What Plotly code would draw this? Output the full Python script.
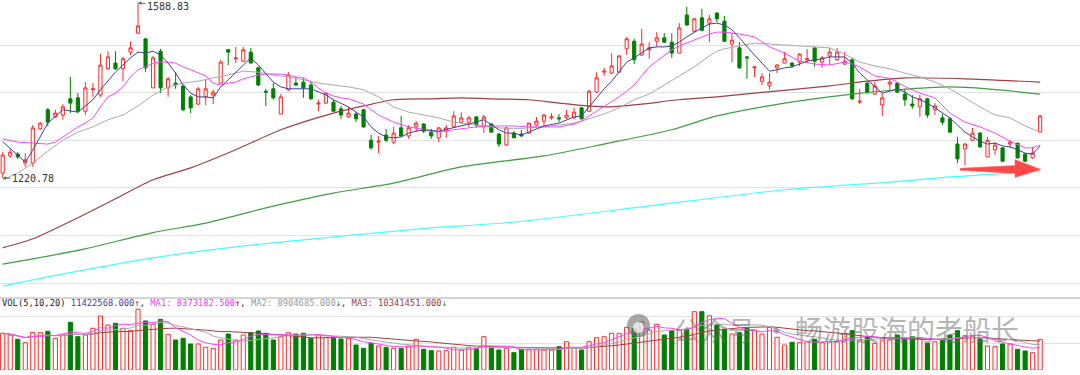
import plotly.graph_objects as go
import pandas as pd

# ---------------- data ----------------
idx = list(range(139))

opens = [1231,1267,1271,1252,1252,1324,1364,1349,1353,1387,1389,1361,1406,1395,1450,1462,1450,1485,1525,1513,
         1410,1487,1410,1420,1414,1391,1376,1391,1395,1420,1490,1471,1466,1485,1452,1403,1408,1355,1406,1420,
         1422,1416,1376,1378,1380,1366,1349,1355,1364,1300,1296,1311,1296,1326,1309,1328,1334,1317,1305,1319,
         1328,1338,1338,1349,1328,1334,1313,1290,1315,1313,1315,1332,1340,1347,1347,1347,1347,1368,1361,1401,
         1443,1441,1443,1492,1508,1479,1490,1508,1515,1506,1483,1563,1529,1557,1546,1567,1550,1502,1494,1475,
         1452,1424,1414,1452,1462,1462,1464,1469,1494,1464,1477,1469,1460,1469,1380,1420,1397,1374,1418,1420,
         1397,1376,1370,1387,1364,1347,1345,1292,1282,1300,1315,1265,1280,1284,1292,1294,1271,1263,1317]
highs = [1275,1282,1275,1273,1332,1338,1368,1364,1376,1433,1399,1422,1420,1481,1487,1487,1475,1508,1588.83,1513,
         1477,1492,1433,1443,1416,1395,1412,1427,1406,1469,1492,1496,1496,1494,1454,1408,1420,1397,1443,1433,
         1431,1424,1385,1401,1385,1372,1370,1359,1366,1311,1309,1324,1328,1351,1332,1340,1336,1324,1328,1332,
         1361,1359,1351,1351,1353,1336,1315,1328,1319,1322,1336,1349,1355,1357,1355,1364,1368,1370,1406,1443,
         1452,1483,1479,1517,1513,1534,1506,1527,1525,1525,1546,1580,1557,1576,1563,1569,1561,1525,1506,1477,
         1456,1441,1441,1460,1485,1464,1483,1492,1494,1477,1494,1494,1485,1473,1408,1422,1422,1399,1429,1422,
         1408,1395,1395,1389,1378,1355,1349,1307,1294,1326,1317,1307,1296,1286,1300,1294,1273,1286,1353]
lows = [1220.78,1263,1261,1244,1244,1322,1330,1347,1343,1357,1357,1353,1391,1391,1448,1448,1424,1479,1523,1443,
        1410,1399,1391,1408,1361,1357,1374,1374,1376,1420,1458,1462,1464,1462,1414,1372,1385,1355,1403,1414,
        1389,1385,1361,1376,1359,1345,1347,1338,1326,1280,1273,1296,1292,1307,1303,1317,1315,1303,1296,1305,
        1326,1336,1328,1326,1315,1317,1286,1288,1305,1307,1313,1330,1330,1343,1338,1345,1345,1343,1359,1399,
        1435,1439,1441,1479,1460,1477,1471,1496,1504,1473,1483,1540,1527,1529,1506,1548,1506,1464,1450,1429,
        1433,1416,1406,1441,1462,1452,1456,1464,1454,1452,1458,1466,1458,1385,1376,1397,1395,1351,1403,1399,
        1372,1366,1349,1347,1353,1332,1315,1252,1248,1298,1284,1265,1269,1254,1284,1261,1254,1261,1317]
closes = [1269,1275,1265,1259,1326,1336,1338,1357,1370,1378,1361,1410,1408,1458,1475,1450,1471,1494,1540,1452,
          1473,1410,1429,1416,1364,1368,1408,1408,1401,1464,1485,1473,1490,1462,1416,1401,1389,1391,1437,1416,
          1410,1387,1378,1399,1361,1353,1357,1345,1328,1284,1298,1300,1315,1309,1326,1336,1319,1309,1326,1326,
          1351,1347,1347,1332,1349,1317,1292,1326,1305,1309,1336,1340,1353,1349,1345,1353,1359,1345,1403,1431,
          1445,1456,1477,1513,1469,1502,1494,1515,1506,1483,1536,1542,1555,1531,1555,1555,1508,1510,1452,1473,
          1454,1433,1422,1458,1471,1456,1481,1471,1466,1473,1485,1485,1466,1387,1382,1401,1414,1389,1422,1401,
          1385,1372,1387,1353,1372,1338,1317,1261,1292,1315,1286,1300,1290,1256,1296,1263,1256,1273,1351]

# volume (millions of shares)
volumes = [13.65,13.02,11.42,10.16,14.02,13.88,14.40,11.79,13.02,17.74,
           12.39,13.02,15.51,20.09,16.74,17.37,15.51,14.62,22.58,18.23,
           17.00,18.86,13.28,11.16,11.79,9.67,9.67,8.44,8.07,11.16,
           13.39,11.16,13.02,13.88,14.51,13.65,11.16,12.39,13.88,13.39,
           13.65,11.79,13.02,12.16,11.79,11.53,11.79,9.30,8.07,9.93,
           8.93,8.44,8.07,8.07,8.93,11.42,7.70,7.18,7.07,7.18,
           8.44,7.44,8.44,8.07,12.39,8.44,7.44,8.07,6.44,7.70,
           7.70,7.70,
           7.44,7.44,8.67,10.53,8.07,7.44,10.53,12.02,12.39,13.65,
           13.65,15.88,15.51,17.97,14.88,17.00,13.02,14.62,14.88,15.14,
           21.69,21.69,20.20,16.74,15.14,13.39,13.88,15.51,14.88,13.39,
           15.88,12.16,9.30,10.30,10.16,10.53,11.42,10.16,10.53,10.53,
           13.65,14.62,11.16,12.39,9.93,11.79,11.16,13.02,11.79,12.39,
           11.79,9.93,10.53,11.42,13.02,14.62,12.76,12.65,11.53,8.93,
           8.67,9.67,9.67,7.70,7.07,6.44,11.42]

# price moving averages (index, value)
ma5_idx = [0,3,4,6,8,10,12,13,15,17,18,19,20,21,22,23,24,25,26,27,28,29,30,31,32,33,34,35,36,37,38,41,42,43,44,45,46,47,
           48,49,50,51,52,53,54,55,56,58,60,62,64,65,66,67,68,69,70,72,74,76,77,78,79,80,81,82,83,84,85,86,87,88,89,90,
           91,92,93,94,95,96,97,98,99,100,101,102,103,104,105,106,107,108,109,110,112,113,114,115,116,117,118,119,120,
           121,122,123,124,125,126,127,128,129,130,131,132,133,134,135,136,137,138]
ma5_val = [1297,1254,1279,1336,1364,1359,1385,1406,1443,1473,1485,1483,1487,1479,1462,1441,1416,1399,1391,1391,1389,1412,
           1427,1443,1458,1473,1458,1441,1422,1412,1408,1408,1401,1395,1385,1378,1370,1359,
           1349,1328,1315,1307,1305,1307,1315,1319,1322,1319,1326,1334,1343,1332,1322,1315,1315,1311,1317,1330,1336,1349,
           1351,1370,1389,1408,1424,1445,1464,1473,1483,1494,1496,1496,1498,1506,
           1517,1527,1536,1544,1546,1542,1532,1515,1496,1479,1462,1445,1448,1452,1454,1460,1466,1469,1471,1475,1475,1462,
           1441,1427,1412,1399,1403,1408,1401,
           1391,1385,1378,1368,1357,1347,1332,1317,1307,1298,1292,1294,1288,1286,1280,1273,1271,1288]

ma10_idx = [0,2,4,6,7,8,9,10,11,12,13,14,15,16,17,18,19,20,21,22,23,24,25,26,27,28,29,30,31,32,33,34,35,37,38,39,40,41,
            42,43,44,45,46,47,48,50,52,54,56,58,60,62,64,66,68,70,72,74,76,77,78,79,80,81,82,83,84,85,86,87,88,89,90,
            91,92,93,94,95,96,98,100,102,104,106,108,110,112,113,114,116,118,120,122,124,126,128,130,132,134,136,137,138]
ma10_val = [1303,1296,1294,1292,1296,1307,1317,1328,1336,1347,1370,1391,1399,1412,1433,1448,1454,1462,1464,1464,1462,
            1454,1448,1441,1435,1420,1416,1420,1422,1429,1433,1437,1439,1439,1437,1433,1431,1422,
            1410,1399,1393,1389,1387,1382,1376,1353,1338,1328,1322,1317,1322,1326,1330,1330,1330,1328,1328,1328,1334,
            1340,1351,1361,1370,1380,1391,1403,1416,1435,1454,1466,1479,1490,1498,
            1504,1511,1517,1523,1527,1527,1523,1517,1496,1483,1466,1460,1458,1464,1460,1454,1435,1430,1413,1399,1389,
            1357,1338,1328,1315,1298,1284,1284,1290]

ma20_idx = [0,2,4,6,8,10,12,14,16,18,20,22,24,26,28,30,32,34,36,38,40,42,44,46,48,50,52,54,56,58,60,62,64,66,68,70,
            72,74,76,78,80,82,84,86,88,90,92,94,95,96,98,100,102,104,106,108,110,112,114,116,118,120,122,124,126,128,
            130,132,134,136,138]
ma20_val = [1217,1231,1252,1277,1300,1317,1328,1343,1353,1372,1395,1412,1420,1424,1431,1437,1445,1443,1437,1433,1427,
            1420,1416,1412,1406,1391,1370,1359,1353,1347,1338,1334,1330,1326,1324,1326,
            1328,1332,1336,1345,1355,1368,1385,1397,1416,1435,1454,1477,1487,1492,1498,1504,1502,1500,1498,1496,1494,
            1481,1464,1456,1450,1441,1433,1422,1408,1389,1370,1353,1347,1330,1317]

ma60_idx = [0,4,11,15,20,25,31,37,44,48,52,57,61,65,70,74,78,81,85,90,95,100,110,115,120,128,138]
ma60_val = [1074,1093,1145,1177,1217,1242,1280,1322,1357,1372,1385,1387,1389,1387,1385,1378,1372,1370,1376,1385,
            1391,1399,1414,1424,1431,1429,1422]

ma120_idx = [0,4,11,20,27,35,44,52,61,72,80,89,95,104,113,119,126,131,138]
ma120_val = [1040,1051,1072,1106,1126,1158,1189,1210,1244,1267,1292,1322,1351,1378,1397,1406,1412,1408,1397]

ma250_idx = [0,6,20,31,44,57,68,86,104,118,126,138]
ma250_val = [994,1013,1053,1076,1097,1116,1128,1162,1196,1212,1223,1235]

high_label = "1588.83"
low_label = "1220.78"
vol_legend = ["VOL(5,10,20)", "11422568.000", "MA1: 8373182.500", "MA2: 8904685.000", "MA3: 10341451.000"]
watermark = ["公众号", "·", "畅游股海的老船长"]

# ---------------- styling ----------------
W, H = 1080, 375
RED = "#ff2a2a"
GREEN = "#008000"
C_MA5 = "#3f3f9a"
C_MA10 = "#ff44ff"
C_MA20 = "#aaaaaa"
C_MA60 = "#a04040"
C_MA120 = "#3f9f3f"
C_MA250 = "#44ffff"
GRID = "#e2e2e2"

def px_x(v):
    return v / W

def px_y(v):
    return 1 - v / H

fig = go.Figure()

fig.add_trace(go.Candlestick(
    x=idx, open=opens, high=highs, low=lows, close=closes,
    increasing=dict(line=dict(color=RED, width=1), fillcolor="white"),
    decreasing=dict(line=dict(color=GREEN, width=1), fillcolor=GREEN),
    whiskerwidth=0, showlegend=False, hoverinfo="skip",
    xaxis="x", yaxis="y"))

for xs, ys, c, w, shp in [(ma250_idx, ma250_val, C_MA250, 1.2, "spline"),
                          (ma120_idx, ma120_val, C_MA120, 1.2, "spline"),
                          (ma60_idx, ma60_val, C_MA60, 1.2, "spline"),
                          (ma20_idx, ma20_val, C_MA20, 1, "linear"),
                          (ma10_idx, ma10_val, C_MA10, 1, "linear"),
                          (ma5_idx, ma5_val, C_MA5, 1, "linear")]:
    fig.add_trace(go.Scatter(x=xs, y=ys, mode="lines", line=dict(color=c, width=w, shape=shp, smoothing=0.7),
                             showlegend=False, hoverinfo="skip", xaxis="x", yaxis="y"))

up = [c >= o for o, c in zip(opens, closes)]
fig.add_trace(go.Bar(
    x=idx, y=volumes, width=0.55,
    marker=dict(color=["white" if u else GREEN for u in up],
                line=dict(color=[RED if u else GREEN for u in up], width=1)),
    showlegend=False, hoverinfo="skip", xaxis="x2", yaxis="y2"))

vs = pd.Series(volumes)
for n, c in [(20, C_MA60), (10, C_MA20), (5, C_MA10)]:
    fig.add_trace(go.Scatter(x=idx, y=vs.rolling(n, min_periods=1).mean(), mode="lines",
                             line=dict(color=c, width=1), showlegend=False, hoverinfo="skip",
                             xaxis="x2", yaxis="y2"))

xr = [-0.36, 143.3]
fig.update_layout(
    width=W, height=H, margin=dict(l=0, r=0, t=0, b=0),
    paper_bgcolor="white", plot_bgcolor="white",
    xaxis=dict(domain=[0, 1], range=xr, showgrid=False, zeroline=False, showticklabels=False,
               rangeslider=dict(visible=False), anchor="y", fixedrange=True),
    yaxis=dict(domain=[px_y(290), 1], range=[985.5, 1594.5], tickvals=[1000, 1100, 1200, 1300, 1400, 1500],
               gridcolor=GRID, gridwidth=1, zeroline=False, showticklabels=False, anchor="x"),
    xaxis2=dict(domain=[0, 1], range=xr, showgrid=False, zeroline=False, showticklabels=False, anchor="y2"),
    yaxis2=dict(domain=[px_y(370), px_y(298)], range=[0, 26.78], tickvals=[0, 10, 20],
                gridcolor=GRID, gridwidth=1, zeroline=False, showticklabels=False, anchor="x2"),
    boxgap=0.4,
)

# separator line above volume panel
fig.add_shape(type="line", xref="paper", yref="paper", x0=0, x1=1, y0=px_y(298), y1=px_y(298),
              line=dict(color="#a8a8a8", width=1))

mono = "DejaVu Sans Mono"
fig.add_annotation(x=18, y=1588.83, xref="x", yref="y", text=high_label, showarrow=True,
                   ax=30, ay=4, arrowhead=2, arrowsize=0.7, arrowwidth=1, arrowcolor="#666",
                   font=dict(family=mono, size=10, color="#333"))
fig.add_annotation(x=0, y=1220.78, xref="x", yref="y", text=low_label, showarrow=True,
                   ax=30, ay=1, arrowhead=2, arrowsize=0.7, arrowwidth=1, arrowcolor="#666",
                   font=dict(family=mono, size=10, color="#333"))

legend_html = (f"<span style='color:#222'>{vol_legend[0]}</span> "
               f"<span style='color:{C_MA5}'>{vol_legend[1]}</span><span style='color:#e00'>↑</span>, "
               f"<span style='color:#ff33ff'>{vol_legend[2]}</span><span style='color:#e00'>↑</span>, "
               f"<span style='color:#999'>{vol_legend[3]}</span><span style='color:#090'>↓</span>, "
               f"<span style='color:{C_MA60}'>{vol_legend[4]}</span><span style='color:#090'>↓</span>")
fig.add_annotation(x=0, y=px_y(303), xref="paper", yref="paper", xanchor="left", yanchor="middle",
                   text=legend_html, showarrow=False, font=dict(family=mono, size=8.8, color="#222"))

# watermark
fig.add_shape(type="circle", xref="paper", yref="paper", x0=px_x(627), x1=px_x(650), y0=px_y(337), y1=px_y(314),
              fillcolor="rgba(110,110,110,0.6)", line=dict(width=0))
fig.add_shape(type="circle", xref="paper", yref="paper", x0=px_x(633), x1=px_x(644), y0=px_y(333), y1=px_y(322),
              fillcolor="rgba(255,255,255,0.7)", line=dict(width=0))
cjk = "Noto Sans CJK SC"
wm_color = "rgba(105,105,105,0.5)"
fig.add_annotation(x=px_x(672), y=px_y(329), xref="paper", yref="paper", xanchor="left", yanchor="middle",
                   text=watermark[0], showarrow=False, font=dict(family=cjk, size=27, color=wm_color))
fig.add_annotation(x=px_x(776), y=px_y(329), xref="paper", yref="paper", xanchor="center", yanchor="middle",
                   text=watermark[1], showarrow=False, font=dict(family=cjk, size=27, color=wm_color))
fig.add_annotation(x=px_x(793), y=px_y(329), xref="paper", yref="paper", xanchor="left", yanchor="middle",
                   text=watermark[2], showarrow=False, font=dict(family=cjk, size=28, color=wm_color))

# red arrow (decoration)
pts = [(960, 168.3), (1015, 165.5), (1015, 159.5), (1041, 169.5), (1015, 177.5), (1015, 173.5), (960, 170.3)]
path = "M " + " L ".join(f"{px_x(a):.5f},{px_y(b):.5f}" for a, b in pts) + " Z"
fig.add_shape(type="path", xref="paper", yref="paper", path=path,
              fillcolor="#ff4848", line=dict(color="#ff6a6a", width=0.5))

fig.write_html("out.html", config={"displayModeBar": False},
               post_script="document.body.style.margin='0';document.body.style.overflow='hidden';")
